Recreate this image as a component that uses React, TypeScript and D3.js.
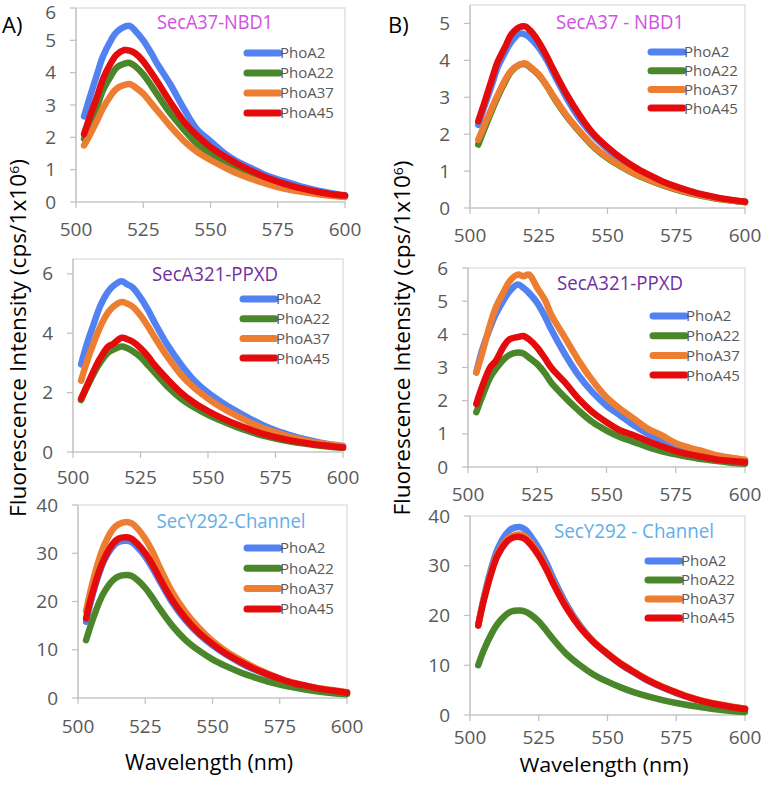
import React from "react";
import * as d3 from "d3";

const wavelengths = [503, 505, 508, 510, 513, 515, 518, 520, 522, 525, 528, 530, 535, 540, 545, 550, 555, 560, 565, 570, 575, 580, 585, 590, 595, 600];
const seriesNames = ["PhoA2", "PhoA22", "PhoA37", "PhoA45"];
const seriesColors = ["#5281f2", "#4a862a", "#ed7d31", "#e30b0b"];
const xTicks = [500, 525, 550, 575, 600];

// Panel A top: SecA37-NBD1
const a1PhoA2 = [2.65, 3.2, 4.0, 4.5, 5.0, 5.25, 5.42, 5.45, 5.3, 5.0, 4.6, 4.3, 3.65, 2.9, 2.25, 1.88, 1.52, 1.25, 1.05, 0.85, 0.7, 0.58, 0.45, 0.35, 0.27, 0.2];
const a1PhoA22 = [1.95, 2.4, 3.0, 3.45, 3.9, 4.15, 4.28, 4.3, 4.2, 3.95, 3.6, 3.35, 2.75, 2.25, 1.8, 1.5, 1.24, 1.02, 0.83, 0.66, 0.53, 0.42, 0.33, 0.26, 0.21, 0.17];
const a1PhoA37 = [1.75, 2.05, 2.55, 2.9, 3.3, 3.5, 3.62, 3.65, 3.55, 3.35, 3.05, 2.85, 2.35, 1.9, 1.55, 1.3, 1.08, 0.88, 0.72, 0.58, 0.46, 0.37, 0.3, 0.24, 0.19, 0.16];
const a1PhoA45 = [2.1, 2.6, 3.3, 3.8, 4.3, 4.55, 4.7, 4.68, 4.6, 4.35, 4.0, 3.75, 3.1, 2.5, 2.05, 1.7, 1.42, 1.18, 0.97, 0.78, 0.63, 0.5, 0.4, 0.31, 0.24, 0.2];

// Panel B top: SecA37 - NBD1
const b1PhoA2 = [2.25, 2.7, 3.35, 3.8, 4.25, 4.5, 4.72, 4.7, 4.6, 4.35, 4.0, 3.7, 3.0, 2.4, 1.95, 1.6, 1.3, 1.07, 0.87, 0.7, 0.56, 0.45, 0.35, 0.27, 0.21, 0.17];
const b1PhoA22 = [1.72, 2.1, 2.65, 3.0, 3.45, 3.7, 3.88, 3.9, 3.8, 3.6, 3.3, 3.05, 2.5, 2.05, 1.65, 1.35, 1.12, 0.92, 0.76, 0.62, 0.5, 0.4, 0.32, 0.25, 0.2, 0.16];
const b1PhoA37 = [1.85, 2.2, 2.72, 3.05, 3.5, 3.72, 3.88, 3.92, 3.82, 3.62, 3.3, 3.07, 2.52, 2.07, 1.67, 1.37, 1.13, 0.93, 0.77, 0.63, 0.51, 0.41, 0.33, 0.26, 0.2, 0.16];
const b1PhoA45 = [2.35, 2.8, 3.5, 3.95, 4.4, 4.7, 4.9, 4.92, 4.8, 4.5, 4.1, 3.8, 3.1, 2.5, 2.0, 1.65, 1.35, 1.1, 0.9, 0.72, 0.58, 0.46, 0.36, 0.28, 0.22, 0.17];

// Panel A middle: SecA321-PPXD
const a2PhoA2 = [2.95, 3.6, 4.4, 4.9, 5.4, 5.6, 5.75, 5.65, 5.55, 5.2, 4.75, 4.4, 3.6, 2.95, 2.4, 2.0, 1.68, 1.4, 1.15, 0.92, 0.73, 0.58, 0.45, 0.35, 0.26, 0.2];
const a2PhoA22 = [1.75, 2.15, 2.7, 3.0, 3.35, 3.45, 3.55, 3.5, 3.4, 3.2, 2.9, 2.7, 2.2, 1.8, 1.5, 1.25, 1.05, 0.86, 0.7, 0.56, 0.45, 0.36, 0.29, 0.23, 0.18, 0.14];
const a2PhoA37 = [2.4, 3.0, 3.75, 4.2, 4.7, 4.9, 5.05, 5.0, 4.9, 4.6, 4.2, 3.9, 3.2, 2.6, 2.15, 1.8, 1.5, 1.25, 1.02, 0.82, 0.66, 0.52, 0.41, 0.32, 0.25, 0.19];
const a2PhoA45 = [1.8, 2.2, 2.8, 3.15, 3.55, 3.65, 3.85, 3.8, 3.72, 3.5, 3.2, 2.95, 2.45, 2.0, 1.65, 1.38, 1.15, 0.95, 0.78, 0.62, 0.5, 0.4, 0.32, 0.25, 0.2, 0.15];

// Panel B middle: SecA321-PPXD
const b2PhoA2 = [2.85, 3.5, 4.2, 4.6, 5.05, 5.3, 5.5, 5.4, 5.25, 4.95, 4.5, 4.15, 3.4, 2.75, 2.25, 1.85, 1.55, 1.25, 1.0, 0.8, 0.62, 0.5, 0.4, 0.3, 0.23, 0.18];
const b2PhoA22 = [1.65, 2.1, 2.7, 2.95, 3.25, 3.38, 3.45, 3.42, 3.3, 3.1, 2.8, 2.55, 2.1, 1.7, 1.35, 1.1, 0.9, 0.75, 0.6, 0.47, 0.38, 0.3, 0.23, 0.18, 0.13, 0.1];
const b2PhoA37 = [2.85, 3.4, 4.3, 4.8, 5.3, 5.6, 5.8, 5.75, 5.8, 5.4, 5.0, 4.6, 3.9, 3.2, 2.6, 2.1, 1.75, 1.45, 1.15, 0.95, 0.72, 0.58, 0.47, 0.35, 0.28, 0.22];
const b2PhoA45 = [1.9, 2.4, 3.0, 3.2, 3.65, 3.85, 3.92, 3.95, 3.85, 3.6, 3.25, 3.0, 2.55, 2.05, 1.65, 1.35, 1.1, 0.95, 0.78, 0.62, 0.48, 0.38, 0.3, 0.22, 0.18, 0.15];

// Panel A bottom: SecY292-Channel
const a3PhoA2 = [15.8, 20.5, 26, 28.8, 31.4, 32.3, 32.6, 32.3, 31.3, 29.3, 26.6, 24.6, 19.8, 16.1, 13.2, 10.9, 9.0, 7.4, 6.0, 4.9, 3.9, 3.0, 2.4, 1.9, 1.5, 1.1];
const a3PhoA22 = [12, 15.5, 20, 22.2, 24.4, 25.2, 25.5, 25.3, 24.5, 22.8, 20.5, 18.8, 15, 12, 9.8, 8.0, 6.6, 5.4, 4.4, 3.5, 2.8, 2.2, 1.7, 1.3, 1.0, 0.8];
const a3PhoA37 = [18, 23, 29, 32, 35, 36, 36.5, 36.2, 35.2, 33, 30, 27.5, 22, 17.8, 14.5, 11.8, 9.7, 8.0, 6.5, 5.2, 4.0, 3.2, 2.5, 2.0, 1.6, 1.2];
const a3PhoA45 = [16.5, 21, 26.5, 29.2, 32, 33, 33.3, 33, 32, 30, 27.3, 25.2, 20.3, 16.5, 13.5, 11.2, 9.2, 7.6, 6.2, 5.0, 4.0, 3.1, 2.5, 1.9, 1.5, 1.1];

// Panel B bottom: SecY292 - Channel
const b3PhoA2 = [18, 23.5, 30, 33.3, 36.3, 37.4, 37.8, 37.3, 36, 33.5, 30.3, 27.8, 22.3, 18, 14.7, 12.2, 10.1, 8.4, 6.8, 5.5, 4.4, 3.5, 2.7, 2.1, 1.6, 1.2];
const b3PhoA22 = [10, 13, 16.5, 18.3, 20.1, 20.8, 21, 20.8, 20.2, 18.8, 16.8, 15.4, 12.3, 10, 8.1, 6.7, 5.5, 4.5, 3.7, 3.0, 2.4, 1.9, 1.5, 1.1, 0.8, 0.6];
const b3PhoA37 = [18, 23.2, 29.3, 32.4, 35, 35.9, 36.3, 35.9, 34.7, 32.4, 29.3, 27, 21.8, 17.8, 14.7, 12.4, 10.3, 8.6, 7.0, 5.7, 4.6, 3.6, 2.8, 2.2, 1.7, 1.3];
const b3PhoA45 = [18, 23, 29, 32, 34.6, 35.5, 35.8, 35.4, 34.3, 32, 29, 26.7, 21.6, 17.6, 14.6, 12.3, 10.2, 8.5, 6.9, 5.6, 4.5, 3.5, 2.7, 2.1, 1.6, 1.2];

const panelTitles = ["SecA37-NBD1", "SecA37 - NBD1", "SecA321-PPXD", "SecA321-PPXD", "SecY292-Channel", "SecY292 - Channel"];
const titleColors = ["#d151e3", "#d151e3", "#7030a0", "#7030a0", "#62aee6", "#62aee6"];
const yTickSets = [[0, 1, 2, 3, 4, 5, 6], [0, 1, 2, 3, 4, 5], [0, 2, 4, 6], [0, 1, 2, 3, 4, 5, 6], [0, 10, 20, 30, 40], [0, 10, 20, 30, 40]];
const yMaxes = [6, 5.5, 6.5, 6, 40, 40];
const panelSeries = [
  [a1PhoA2, a1PhoA22, a1PhoA37, a1PhoA45],
  [b1PhoA2, b1PhoA22, b1PhoA37, b1PhoA45],
  [a2PhoA2, a2PhoA22, a2PhoA37, a2PhoA45],
  [b2PhoA2, b2PhoA22, b2PhoA37, b2PhoA45],
  [a3PhoA2, a3PhoA22, a3PhoA37, a3PhoA45],
  [b3PhoA2, b3PhoA22, b3PhoA37, b3PhoA45],
];

// layout (pixel geometry of each panel)
const layouts = [
  { x0: 76, x1: 345, yTop: 8, yZero: 202, titleX: 215, titleY: 29, titleW: 116, legX: 247, legY: 53, legStep: 20, xLabY: 236 },
  { x0: 470, x1: 745, yTop: 5, yZero: 208, titleX: 620, titleY: 29, titleW: 128, legX: 651, legY: 52, legStep: 18.7, xLabY: 242 },
  { x0: 73, x1: 343, yTop: 259, yZero: 452, titleX: 215, titleY: 281, titleW: 126, legX: 243, legY: 299, legStep: 19.7, xLabY: 484 },
  { x0: 468, x1: 745, yTop: 268, yZero: 467, titleX: 620, titleY: 290, titleW: 126, legX: 653, legY: 316, legStep: 19.7, xLabY: 501 },
  { x0: 78, x1: 347, yTop: 505, yZero: 698, titleX: 231, titleY: 528, titleW: 149, legX: 247, legY: 548, legStep: 20.3, xLabY: 733 },
  { x0: 470, x1: 745, yTop: 516, yZero: 715, titleX: 634, titleY: 538, titleW: 160, legX: 648, legY: 561, legStep: 19, xLabY: 744 },
];

const FONT = "'Open Sans', 'Noto Sans', sans-serif";

function Panel({ idx }: { idx: number }) {
  const L = layouts[idx];
  const x = d3.scaleLinear().domain([500, 600]).range([L.x0, L.x1]);
  const y = d3.scaleLinear().domain([0, yMaxes[idx]]).range([L.yZero, L.yTop]);
  const line = d3
    .line<number>()
    .x((_, i) => x(wavelengths[i]))
    .y((d) => y(d))
    .curve(d3.curveCatmullRom.alpha(0.5));
  const series = panelSeries[idx];
  return (
    <g>
      <rect x={L.x0} y={L.yTop} width={L.x1 - L.x0} height={L.yZero - L.yTop} fill="none" stroke="#d9d9d9" strokeWidth={1.2} />
      <line x1={L.x0} x2={L.x0} y1={L.yTop} y2={L.yZero} stroke="#bfbfbf" strokeWidth={1.2} />
      <line x1={L.x0} x2={L.x1} y1={L.yZero} y2={L.yZero} stroke="#bfbfbf" strokeWidth={1.2} />
      {yTickSets[idx].map((t) => (
        <g key={"y" + t}>
          <line x1={L.x0 - 6} x2={L.x0} y1={y(t)} y2={y(t)} stroke="#bfbfbf" strokeWidth={1.2} />
          <text x={L.x0 - 20} y={Math.max(y(t), 12)} dy="0.35em" textAnchor="end" fontFamily={FONT} fontSize={19} fill="#595959">
            {t}
          </text>
        </g>
      ))}
      {xTicks.map((t) => (
        <g key={"x" + t}>
          <line x1={x(t)} x2={x(t)} y1={L.yZero} y2={L.yZero + 6} stroke="#bfbfbf" strokeWidth={1.2} />
          <text x={x(t)} y={L.xLabY} textAnchor="middle" fontFamily={FONT} fontSize={19} fill="#595959">
            {t}
          </text>
        </g>
      ))}
      {series.map((s, i) => (
        <path key={"s" + i} d={line(s) || ""} fill="none" stroke={seriesColors[i]} strokeWidth={6.5} strokeLinecap="round" strokeLinejoin="round" />
      ))}
      <text x={L.titleX} y={L.titleY} textAnchor="middle" fontFamily={FONT} fontSize={20} fill={titleColors[idx]} textLength={L.titleW} lengthAdjust="spacingAndGlyphs">
        {panelTitles[idx]}
      </text>
      {seriesNames.map((n, i) => (
        <g key={"l" + i}>
          <line x1={L.legX} x2={L.legX + 32} y1={L.legY + i * L.legStep} y2={L.legY + i * L.legStep} stroke={seriesColors[i]} strokeWidth={7} strokeLinecap="round" />
          <text x={L.legX + 33} y={L.legY + i * L.legStep} dy="0.36em" fontFamily={FONT} fontSize={15} fill="#595959">
            {n}
          </text>
        </g>
      ))}
    </g>
  );
}

export default function App() {
  return (
    <svg width={762} height={785} style={{ display: "block", position: "absolute", left: 0, top: 0, background: "#fff" }}>
      <rect x={0} y={0} width={762} height={785} fill="#fff" />
      {layouts.map((_, i) => (
        <Panel key={i} idx={i} />
      ))}
      <text x={2} y={33} fontFamily={FONT} fontSize={22} fill="#000">A)</text>
      <text x={388} y={33} fontFamily={FONT} fontSize={22} fill="#000">B)</text>
      <text transform="translate(26,338) rotate(-90)" textAnchor="middle" fontFamily={FONT} fontSize={21} fill="#000" textLength={358} lengthAdjust="spacingAndGlyphs">
        Fluorescence Intensity (cps/1x10<tspan dy={-7} fontSize={13}>6</tspan><tspan dy={7}>)</tspan>
      </text>
      <text transform="translate(410,338) rotate(-90)" textAnchor="middle" fontFamily={FONT} fontSize={21} fill="#000" textLength={355} lengthAdjust="spacingAndGlyphs">
        Fluorescence Intensity (cps/1x10<tspan dy={-7} fontSize={13}>6</tspan><tspan dy={7}>)</tspan>
      </text>
      <text x={209} y={770} textAnchor="middle" fontFamily={FONT} fontSize={21} fill="#000" textLength={168} lengthAdjust="spacingAndGlyphs">
        Wavelength (nm)
      </text>
      <text x={604} y={772} textAnchor="middle" fontFamily={FONT} fontSize={20} fill="#000" textLength={169} lengthAdjust="spacingAndGlyphs">
        Wavelength (nm)
      </text>
    </svg>
  );
}
